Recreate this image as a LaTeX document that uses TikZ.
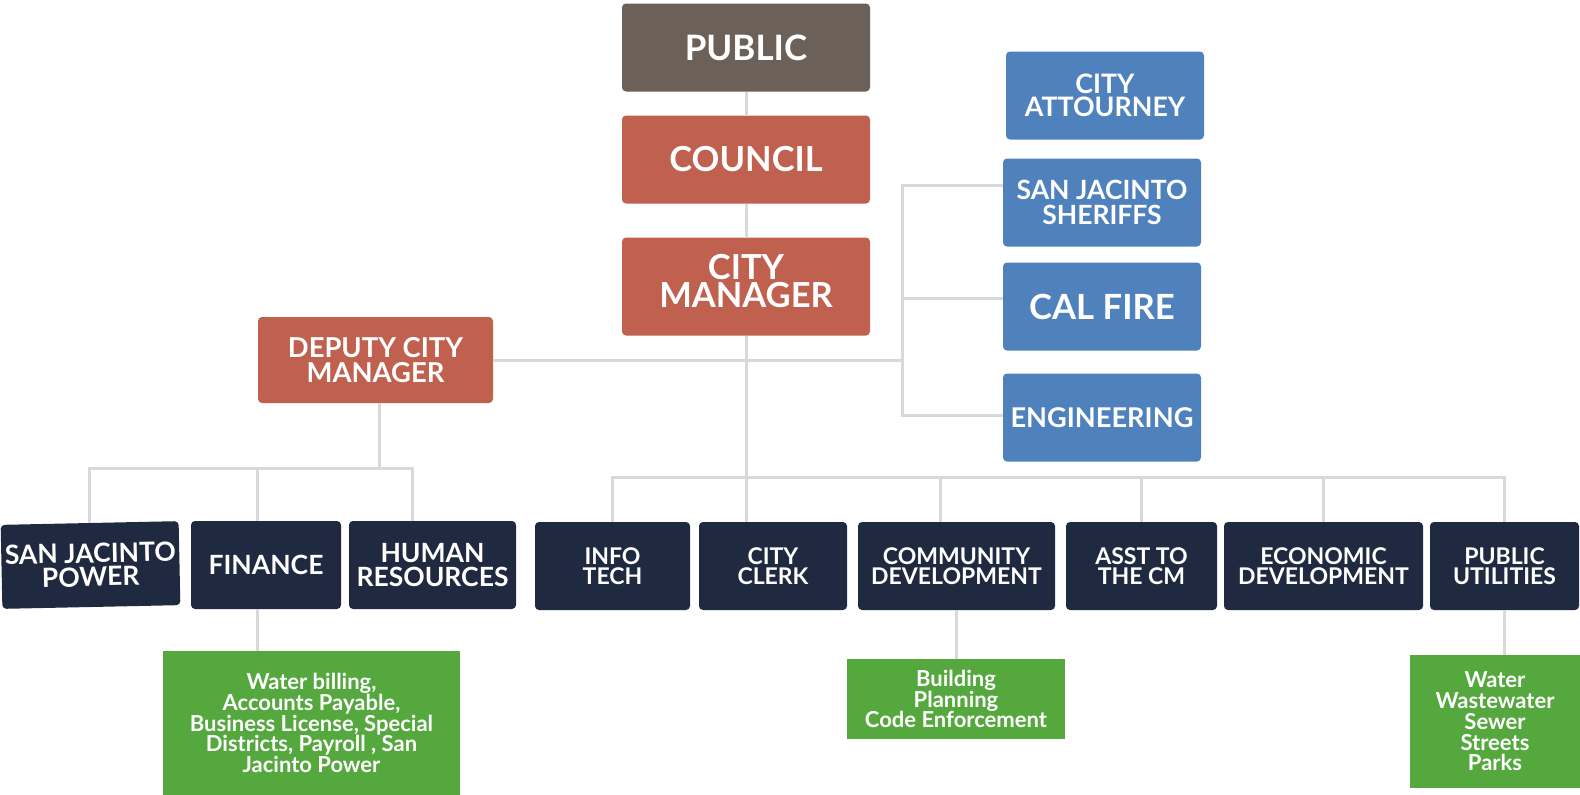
\documentclass[tikz,border=0pt]{standalone}
\usepackage{fontspec}
\setmainfont{Lato}
\usetikzlibrary{positioning}
\definecolor{pubgray}{HTML}{6B6158}
\definecolor{mgrred}{HTML}{C0604F}
\definecolor{svcblue}{HTML}{4F81BD}
\definecolor{deptnavy}{HTML}{1F2A40}
\definecolor{taskgreen}{HTML}{55A83E}
\definecolor{linkgray}{HTML}{D9D9D9}
\newcommand{\fsz}[2]{\bfseries\fontsize{#1}{#2}\selectfont}

\begin{document}
\begin{tikzpicture}[x=1pt,y=1pt,
    every node/.style={text=white, align=center, inner sep=0pt, outer sep=0pt},
    card/.style={rounded corners=4pt, minimum height=88pt},
    pubbox/.style={card, fill=pubgray, minimum width=248pt, font=\fsz{35}{31}},
    mgrbox/.style={card, fill=mgrred, minimum width=248pt, font=\fsz{34.5}{28}},
    svcbox/.style={card, fill=svcblue, minimum width=198pt, font=\fsz{26.8}{23.5}},
    deptbox/.style={card, fill=deptnavy, font=\fsz{23}{20.5}},
    taskbox/.style={fill=taskgreen, font=\fsz{22}{20.8}},
    link/.style={draw=linkgray, line width=3pt}]
    \useasboundingbox (0,0) rectangle (1580,-795);
    \node[pubbox] (public) at (746,-47.5) {PUBLIC};
    \node[mgrbox, below=24pt of public] (council) {COUNCIL};
    \node[mgrbox, below=34pt of council, minimum height=98pt, text depth=11pt] (cm) {CITY\\MANAGER};
    \node[mgrbox, minimum width=235pt, minimum height=86pt, font=\fsz{27.4}{24.6}] (deputy) at (375.5,-360) {DEPUTY CITY\\MANAGER};
    \node[svcbox] (atty) at (1105,-95.5) {CITY\\ATTOURNEY};
    \node[svcbox, below=19pt of atty, xshift=-3pt, font=\fsz{26.5}{24.5}] (sheriffs) {SAN JACINTO\\SHERIFFS};
    \node[svcbox, below=16pt of sheriffs, font=\fsz{34.7}{30}] (calfire) {CAL FIRE};
    \node[svcbox, below=23pt of calfire, font=\fsz{27.2}{24}] (eng) {ENGINEERING};
    \node[deptbox, minimum width=178pt, minimum height=84pt, rotate=1.2, font=\fsz{26.5}{23.5}] (sjpower) at (90.5,-565) {SAN JACINTO\\POWER};
    \node[deptbox, minimum width=150pt, font=\fsz{26.5}{23.5}] (finance) at (266,-565) {FINANCE};
    \node[deptbox, right=8pt of finance, minimum width=167pt, font=\fsz{26.5}{23.5}] (hr) {HUMAN\\RESOURCES};
    \node[deptbox, minimum width=155pt] (infotech) at (612.5,-566) {INFO\\TECH};
    \node[deptbox, right=9pt of infotech, minimum width=148pt] (clerk) {CITY\\CLERK};
    \node[deptbox, right=11pt of clerk, minimum width=197pt] (comdev) {COMMUNITY\\DEVELOPMENT};
    \node[deptbox, right=11pt of comdev, minimum width=151pt] (asst) {ASST TO\\THE CM};
    \node[deptbox, right=7pt of asst, minimum width=199pt] (econ) {ECONOMIC\\DEVELOPMENT};
    \node[deptbox, right=7pt of econ, minimum width=149pt] (putil) {PUBLIC\\UTILITIES};
    \node[taskbox, below=42pt of finance, xshift=45.5pt, minimum width=297pt, minimum height=144pt] (findet)
      {Water billing,\\Accounts Payable,\\Business License, Special\\Districts, Payroll , San\\Jacinto Power};
    \node[taskbox, below=49pt of comdev, xshift=-0.5pt, minimum width=218pt, minimum height=80pt] (comdet)
      {Building\\Planning\\Code Enforcement};
    \node[taskbox, below=45pt of putil, xshift=-9.5pt, minimum width=170pt, minimum height=133pt] (putdet)
      {Water\\Wastewater\\Sewer\\Streets\\Parks};
    \coordinate (brk) at (902,0);
    \coordinate (lbus) at (0,-468);
    \coordinate (rbus) at (0,-477);
    \draw[link] (public) -- (council);
    \draw[link] (council) -- (cm);
    \draw[link] (cm.south) -- (cm.south |- clerk.north);
    \draw[link] (deputy.east) -- (deputy.east -| brk);
    \draw[link] ([yshift=17pt]sheriffs.west) -| ([yshift=2pt]eng.west -| brk) -- ([yshift=2pt]eng.west);
    \draw[link] ([yshift=8pt]calfire.west -| brk) -- ([yshift=8pt]calfire.west);
    \draw[link] ([xshift=4pt]deputy.south) -- ([xshift=4pt]deputy.south |- lbus);
    \draw[link] (sjpower.north) |- ([xshift=-20pt]hr.north |- lbus) -- ([xshift=-20pt]hr.north);
    \draw[link] ([xshift=-9pt]finance.north) -- ([xshift=-9pt]finance.north |- lbus);
    \draw[link] (infotech.north) |- (putil.north |- rbus) -- (putil.north);
    \foreach \n in {asst,econ}
      \draw[link] (\n.north) -- (\n.north |- rbus);
    \draw[link] ([xshift=-16pt]comdev.north) -- ([xshift=-16pt]comdev.north |- rbus);
    \draw[link] ([xshift=-9pt]finance.south) -- ([xshift=-9pt]finance.south |- findet.north);
    \draw[link] (comdev.south) -- (comdev.south |- comdet.north);
    \draw[link] (putil.south) -- (putil.south |- putdet.north);
\end{tikzpicture}
\end{document}
